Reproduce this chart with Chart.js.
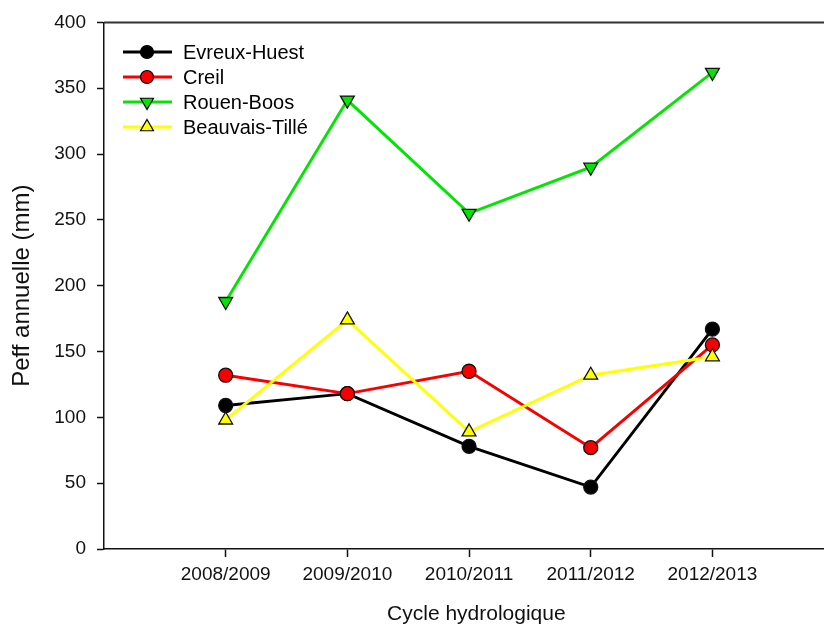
<!DOCTYPE html>
<html>
<head>
<meta charset="utf-8">
<script src="https://cdn.jsdelivr.net/npm/chart.js@4"></script>
<style>
  html, body { margin: 0; padding: 0; overflow: hidden; background: #fff; }
  #wrap { width: 858px; height: 628px; }
</style>
</head>
<body>
<div id="wrap"><canvas id="chart" width="858" height="628"></canvas></div>
<script>
// hydrological cycles (x axis)
const cycles = ["2008/2009", "2009/2010", "2010/2011", "2011/2012", "2012/2013"];

// Peff annuelle (mm) per station
const evreuxHuest = [109, 118, 78, 47, 167];
const creil = [132, 118, 135, 77, 155];
const rouenBoos = [188, 341, 255, 290, 362];
const beauvaisTille = [98, 174, 89, 132, 146];

const yTicks = [0, 50, 100, 150, 200, 250, 300, 350, 400];

const FONT = "Arial, 'Liberation Sans', sans-serif";

function points(values) {
  return values.map((v, i) => ({ x: i, y: v }));
}

// legend drawn inside the plot, top-left, like the original
const insideLegend = {
  id: "insideLegend",
  afterDraw(chart) {
    const ctx = chart.ctx;
    const x0 = 123, y0 = 52, rowH = 25;
    chart.data.datasets.forEach((ds, i) => {
      const y = y0 + i * rowH;
      ctx.save();
      ctx.strokeStyle = ds.borderColor;
      ctx.lineWidth = 2.8;
      ctx.beginPath();
      ctx.moveTo(x0, y);
      ctx.lineTo(x0 + 49, y);
      ctx.stroke();
      ctx.fillStyle = ds.pointBackgroundColor;
      ctx.strokeStyle = "#000";
      ctx.lineWidth = 1.2;
      Chart.helpers.drawPoint(ctx, {
        pointStyle: ds.pointStyle,
        rotation: ds.pointRotation || 0,
        radius: ds.pointStyle === "circle" ? 6.5 : 7.5,
        borderWidth: 1.2
      }, x0 + 24, y);
      ctx.fillStyle = "#000";
      ctx.font = "20px " + FONT;
      ctx.textBaseline = "middle";
      ctx.fillText(ds.label, x0 + 60, y + 1);
      ctx.restore();
    });
  }
};

// top frame line
const topLine = {
  id: "topLine",
  afterDraw(chart) {
    const { ctx, chartArea } = chart;
    ctx.save();
    ctx.strokeStyle = "#333";
    ctx.lineWidth = 2;
    ctx.beginPath();
    ctx.moveTo(chartArea.left, chartArea.top);
    ctx.lineTo(chartArea.right + 10, chartArea.top);
    ctx.stroke();
    ctx.restore();
  }
};

function series(label, data, color, style, rot, order) {
  return {
    label: label,
    data: points(data),
    borderColor: color,
    backgroundColor: color,
    borderWidth: 2.9,
    pointStyle: style,
    pointRadius: style === "circle" ? 7 : 8,
    pointRotation: rot,
    pointBackgroundColor: color,
    pointBorderColor: "#111",
    pointBorderWidth: 1.3,
    tension: 0,
    order: order
  };
}

new Chart(document.getElementById("chart"), {
  type: "line",
  data: {
    datasets: [
      series("Evreux-Huest", evreuxHuest, "#000000", "circle", 0, 4),
      series("Creil", creil, "#f80000", "circle", 0, 3),
      series("Rouen-Boos", rouenBoos, "#00e600", "triangle", 180, 2),
      series("Beauvais-Tillé", beauvaisTille, "#ffff00", "triangle", 0, 1)
    ]
  },
  plugins: [insideLegend, topLine],
  options: {
    responsive: false,
    maintainAspectRatio: false,
    animation: false,
    layout: { padding: { top: 22, right: 0, bottom: 0, left: 0 } },
    plugins: {
      legend: { display: false },
      tooltip: { enabled: false }
    },
    scales: {
      x: {
        type: "linear",
        min: -1,
        max: 5.12,
        afterBuildTicks: (scale) => {
          scale.ticks = cycles.map((c, i) => ({ value: i }));
        },
        afterFit: (scale) => { scale.height = 79; },
        ticks: {
          callback: (v) => cycles[v],
          color: "#111",
          font: { family: FONT, size: 19 },
          padding: 6,
          maxRotation: 0,
          autoSkip: false
        },
        grid: {
          drawOnChartArea: false,
          drawTicks: true,
          tickLength: 8,
          tickColor: "#111",
          tickWidth: 1.5
        },
        border: { color: "#111", width: 1.5 },
        title: {
          display: true,
          text: "Cycle hydrologique",
          color: "#111",
          font: { family: FONT, size: 21 },
          padding: { top: 0, bottom: 1 }
        }
      },
      y: {
        min: 0,
        max: 400,
        afterBuildTicks: (scale) => {
          scale.ticks = yTicks.map((v) => ({ value: v }));
        },
        afterFit: (scale) => { scale.width = 104; },
        ticks: {
          color: "#111",
          font: { family: FONT, size: 19 },
          padding: 11
        },
        grid: {
          drawOnChartArea: false,
          drawTicks: true,
          tickLength: 7,
          tickColor: "#111",
          tickWidth: 1.5
        },
        border: { color: "#111", width: 1.5 },
        title: {
          display: true,
          text: "Peff annuelle (mm)",
          color: "#111",
          font: { family: FONT, size: 24 },
          padding: { top: 8, bottom: 0 }
        }
      }
    }
  }
});
</script>
</body>
</html>
